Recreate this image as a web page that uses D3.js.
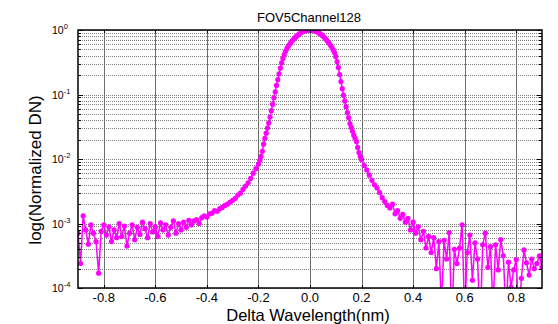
<!DOCTYPE html>
<html>
<head>
<meta charset="utf-8">
<script src="https://cdn.jsdelivr.net/npm/d3@7"></script>
<style>
  body { margin: 0; background: #fff; }
  text { font-family: Arial, "Liberation Sans", sans-serif; fill: #000; }
</style>
</head>
<body>
<svg id="chart"></svg>
<script>
// Data: wavelength offset (nm) and log10 of normalized DN
const wavelength = [
  -0.90, -0.89, -0.88, -0.87, -0.86, -0.85, -0.84, -0.83, -0.82, -0.81,
  -0.80, -0.79, -0.78, -0.77, -0.76, -0.75, -0.74, -0.73, -0.72, -0.71,
  -0.70, -0.69, -0.68, -0.67, -0.66, -0.65, -0.64, -0.63, -0.62, -0.61,
  -0.60, -0.59, -0.58, -0.57, -0.56, -0.55, -0.54, -0.53, -0.52, -0.51,
  -0.50, -0.49, -0.48, -0.47, -0.46, -0.45, -0.44, -0.43, -0.42, -0.41,
  -0.40, -0.39, -0.38, -0.37, -0.36, -0.35, -0.34, -0.33, -0.32, -0.31,
  -0.30, -0.29, -0.28, -0.27, -0.26, -0.25, -0.24, -0.23, -0.22, -0.21,
  -0.200, -0.195, -0.190, -0.185, -0.180, -0.175, -0.170, -0.165, -0.160, -0.155,
  -0.150, -0.145, -0.140, -0.135, -0.130, -0.125, -0.120, -0.115, -0.110, -0.105,
  -0.100, -0.095, -0.090, -0.085, -0.080, -0.075, -0.070, -0.065, -0.060, -0.055,
  -0.050, -0.045, -0.040, -0.035, -0.030, -0.025, -0.020, -0.015, -0.010, -0.005,
  0.000,
  0.005, 0.010, 0.015, 0.020, 0.025, 0.030, 0.035, 0.040, 0.045, 0.050,
  0.055, 0.060, 0.065, 0.070, 0.075, 0.080, 0.085, 0.090, 0.095, 0.100,
  0.105, 0.110, 0.115, 0.120, 0.125, 0.130, 0.135, 0.140, 0.145, 0.150,
  0.155, 0.160, 0.165, 0.170, 0.175, 0.180, 0.185, 0.190, 0.195, 0.200,
  0.21, 0.22, 0.23, 0.24, 0.25, 0.26, 0.27, 0.28, 0.29, 0.30,
  0.31, 0.32, 0.33, 0.34, 0.35, 0.36, 0.37, 0.38, 0.39, 0.40,
  0.41, 0.42, 0.43, 0.44, 0.45, 0.46, 0.47, 0.48, 0.49, 0.50,
  0.51, 0.52, 0.53, 0.54, 0.55, 0.56, 0.57, 0.58, 0.59, 0.60,
  0.61, 0.62, 0.63, 0.64, 0.65, 0.66, 0.67, 0.68, 0.69, 0.70,
  0.71, 0.72, 0.73, 0.74, 0.75, 0.76, 0.77, 0.78, 0.79, 0.80,
  0.81, 0.82, 0.83, 0.84, 0.85, 0.86, 0.87, 0.88, 0.89, 0.90
];

const logDN = [
  -3.15, -3.62, -2.88, -3.10, -3.32, -3.02, -3.15, -3.28, -3.77, -3.12,
  -3.02, -3.18, -3.05, -3.28, -3.10, -3.22, -3.00, -3.20, -3.04, -3.35,
  -3.15, -3.02, -3.25, -3.06, -3.17, -2.98, -3.08, -3.22, -3.00, -3.13,
  -3.05, -3.20, -2.99, -3.10, -3.02, -3.18, -3.06, -2.96, -3.15, -3.00,
  -3.10, -2.98, -3.06, -2.95, -3.02, -2.96, -2.94, -3.00, -2.91, -2.88,
  -2.90, -2.85, -2.84, -2.80, -2.81, -2.77, -2.75, -2.72, -2.70, -2.67,
  -2.64, -2.61, -2.56, -2.53, -2.47, -2.42, -2.37, -2.30, -2.22, -2.15,
  -2.08, -2.02, -1.96, -1.88, -1.77, -1.68, -1.60, -1.52, -1.44, -1.35,
  -1.25, -1.15, -1.05, -0.96, -0.86, -0.77, -0.68, -0.59, -0.51, -0.44,
  -0.38, -0.33, -0.29, -0.256, -0.226, -0.198, -0.172, -0.148, -0.126, -0.106,
  -0.088, -0.071, -0.056, -0.043, -0.031, -0.021, -0.014, -0.008, -0.003, -0.001,
  0.000,
  -0.001, -0.004, -0.009, -0.015, -0.023, -0.034, -0.046, -0.060, -0.076, -0.094,
  -0.113, -0.135, -0.158, -0.183, -0.21, -0.24, -0.27, -0.31, -0.35, -0.41,
  -0.49, -0.58, -0.69, -0.80, -0.91, -1.01, -1.10, -1.19, -1.28, -1.36,
  -1.45, -1.51, -1.57, -1.63, -1.68, -1.73, -1.82, -1.90, -1.96, -2.01,
  -2.10, -2.17, -2.25, -2.33, -2.40, -2.45, -2.52, -2.60, -2.66, -2.72,
  -2.76, -2.70, -2.85, -2.80, -2.92, -2.86, -2.98, -2.92, -3.10, -2.98,
  -3.15, -3.05, -3.25, -3.12, -3.38, -3.20, -3.45, -3.22, -3.70, -3.28,
  -4.30, -3.26, -3.55, -3.14, -4.50, -3.40, -3.62, -3.38, -3.02, -4.40,
  -3.45, -3.18, -3.88, -3.30, -3.55, -4.60, -3.33, -3.15, -3.68, -3.36,
  -4.30, -3.33, -3.72, -3.25, -3.50, -4.40, -3.60, -3.99, -3.72, -3.56,
  -4.50, -3.85, -3.41, -3.61, -3.80, -3.55, -3.70, -3.62, -3.50, -3.68
];

const xTicks = [-0.8, -0.6, -0.4, -0.2, 0, 0.2, 0.4, 0.6, 0.8];
const yDecades = [-4, -3, -2, -1, 0];
const minorSteps = [2, 3, 4, 5, 6, 7, 8, 9];
const chartTitle = "FOV5Channel128";
const xLabel = "Delta Wavelength(nm)";
const yLabel = "log(Normalized DN)";

const W = 558, H = 324;
const plot = {left: 78, right: 542, top: 30, bottom: 288};

const svg = d3.select("#chart")
  .attr("width", W)
  .attr("height", H)
  .style("display", "block");

svg.append("rect").attr("width", W).attr("height", H).attr("fill", "#fff");

const x = d3.scaleLinear().domain([-0.9, 0.9]).range([plot.left, plot.right]);
const y = d3.scaleLog().domain([1e-4, 1]).range([plot.bottom, plot.top]);

// all log grid values (decades plus minor steps)
const gridVals = [];
yDecades.forEach(e => {
  gridVals.push(Math.pow(10, e));
  if (e < 0) minorSteps.forEach(m => gridVals.push(m * Math.pow(10, e)));
});

// horizontal grid (dotted)
svg.append("g")
  .selectAll("line")
  .data(gridVals)
  .enter().append("line")
  .attr("x1", plot.left).attr("x2", plot.right)
  .attr("y1", d => Math.round(y(d)) + 0.5)
  .attr("y2", d => Math.round(y(d)) + 0.5)
  .attr("stroke", "#808080")
  .attr("stroke-dasharray", "1,1")
  .attr("stroke-width", 1);

// vertical grid
svg.append("g")
  .selectAll("line")
  .data(xTicks)
  .enter().append("line")
  .attr("x1", d => Math.round(x(d)) + 0.5)
  .attr("x2", d => Math.round(x(d)) + 0.5)
  .attr("y1", plot.top).attr("y2", plot.bottom)
  .attr("stroke", "#6e6e6e")
  .attr("stroke-width", 1);

// data
const pts = wavelength.map((w, i) => ({w: w, v: Math.pow(10, logDN[i])}));

svg.append("clipPath").attr("id", "clip")
  .append("rect")
  .attr("x", plot.left).attr("y", plot.top)
  .attr("width", plot.right - plot.left)
  .attr("height", plot.bottom - plot.top);

const dataG = svg.append("g").attr("clip-path", "url(#clip)");

dataG.append("path")
  .datum(pts)
  .attr("fill", "none")
  .attr("stroke", "#ff00ff")
  .attr("stroke-width", 1.5)
  .attr("d", d3.line().x(d => x(d.w)).y(d => y(d.v)));

dataG.selectAll("circle")
  .data(pts)
  .enter().append("circle")
  .attr("cx", d => x(d.w))
  .attr("cy", d => y(d.v))
  .attr("r", 2.6)
  .attr("fill", "#ff00ff");

// ticks (inward, MATLAB style)
const tickG = svg.append("g").attr("stroke", "#000").attr("stroke-width", 1);
xTicks.forEach(t => {
  const px = Math.round(x(t)) + 0.5;
  tickG.append("line").attr("x1", px).attr("x2", px)
    .attr("y1", plot.bottom).attr("y2", plot.bottom - 3);
  tickG.append("line").attr("x1", px).attr("x2", px)
    .attr("y1", plot.top).attr("y2", plot.top + 3);
});
gridVals.forEach(v => {
  const py = Math.round(y(v)) + 0.5;
  const len = Number.isInteger(Math.log10(v)) ? 5 : 3;
  tickG.append("line").attr("x1", plot.left).attr("x2", plot.left + len)
    .attr("y1", py).attr("y2", py);
  tickG.append("line").attr("x1", plot.right).attr("x2", plot.right - len)
    .attr("y1", py).attr("y2", py);
});

// axes box
svg.append("rect")
  .attr("x", plot.left).attr("y", plot.top)
  .attr("width", plot.right - plot.left)
  .attr("height", plot.bottom - plot.top)
  .attr("fill", "none")
  .attr("stroke", "#000")
  .attr("stroke-width", 1.5);

// x tick labels
svg.append("g")
  .selectAll("text")
  .data(xTicks)
  .enter().append("text")
  .attr("x", d => x(d))
  .attr("y", 301.5)
  .attr("text-anchor", "middle")
  .attr("font-size", 13)
  .text(d => d3.format(".1f")(d).replace("−", "-"));

// y tick labels: 10 with superscript exponent
const yl = svg.append("g");
yDecades.forEach(e => {
  const t = yl.append("text")
    .attr("x", 52)
    .attr("y", y(Math.pow(10, e)) + 4)
    .attr("font-size", 10.5);
  t.append("tspan").text("10");
  t.append("tspan")
    .attr("dy", -5)
    .attr("font-size", 7.5)
    .text(String(e));
});

// title
svg.append("text")
  .attr("x", 309)
  .attr("y", 22)
  .attr("text-anchor", "middle")
  .attr("font-size", 13)
  .text(chartTitle);

// axis labels
svg.append("text")
  .attr("x", 308)
  .attr("y", 320.5)
  .attr("text-anchor", "middle")
  .attr("font-size", 16.5)
  .text(xLabel);

svg.append("text")
  .attr("transform", "translate(41,170) rotate(-90)")
  .attr("text-anchor", "middle")
  .attr("font-size", 17)
  .text(yLabel);
</script>
</body>
</html>
